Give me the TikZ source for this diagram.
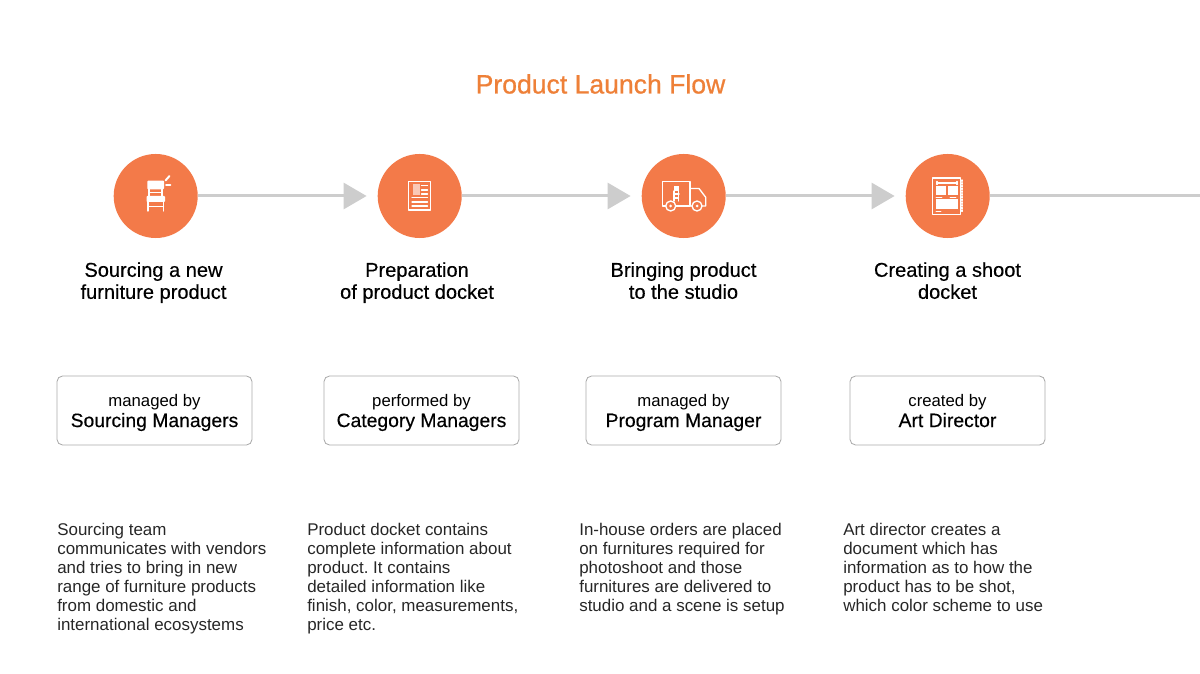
\documentclass[tikz,border=0pt]{standalone}
\usepackage{fontspec}
\setmainfont{Liberation Sans}
\newfontfamily\mediumfont[RawFeature={embolden=0.35}]{Liberation Sans}
\newfontfamily\titlefont[RawFeature={embolden=0.8}]{Liberation Sans}
\frenchspacing
\usetikzlibrary{arrows.meta}
\definecolor{flamingo}{HTML}{F37A49}
\definecolor{titleorange}{HTML}{EE8038}
\definecolor{flowgray}{HTML}{CDCDCD}
\definecolor{boxgray}{HTML}{ABABAB}
\definecolor{inktext}{HTML}{262626}
\tikzset{
	stepcircle/.style={circle, fill=flamingo, minimum size=2.1cm, inner sep=0pt},
	flowline/.style={draw=flowgray, line width=0.075cm, -{Triangle[length=0.575cm, width=0.65cm]}, shorten >=0.27cm},
	stephead/.style={anchor=north, align=center, text=black, inner sep=0pt, font=\mediumfont\fontsize{14.25}{15.65}\selectfont},
	rolebox/.style={draw=boxgray, line width=0.6pt, rounded corners=0.14cm, minimum width=4.875cm, minimum height=1.725cm, align=center, inner sep=0pt, text=black, text depth=0pt, font=\fontsize{12}{14.9}\selectfont},
	stepnote/.style={anchor=north west, align=left, inner sep=0pt, text=inktext, font=\fontsize{12.05}{13.52}\selectfont},
	iconline/.style={draw=white, line width=0.95pt, line cap=round, line join=round},
	iconfill/.style={fill=white, draw=none}
}
\newcommand{\rolesmall}{\fontsize{11.9}{14.9}\selectfont}
\newcommand{\rolelarge}{\mediumfont\fontsize{13.75}{14.9}\selectfont}
\begin{document}
\begin{tikzpicture}[x=0.025cm, y=-0.025cm, line join=round, >=stealth]
	\useasboundingbox (0,0) rectangle (1200,674);

	% Title
	\node[text=titleorange, inner sep=0pt, font=\titlefont\fontsize{18.9}{22}\selectfont] (title) at (600.5,84) {Product Launch Flow};

	% Step circles
	\node[stepcircle] (A) at (155.7,196) {};
	\node[stepcircle] (B) at (419.7,196) {};
	\node[stepcircle] (C) at (683.7,196) {};
	\node[stepcircle] (D) at (947.7,196) {};
	\coordinate (E) at (1200,196);

	% Connectors
	\draw[flowline] (A) -- (B);
	\draw[flowline] (B) -- (C);
	\draw[flowline] (C) -- (D);
	\draw[draw=flowgray, line width=0.075cm] (D) -- (E);

	% Chair icon
	\fill[iconfill, rounded corners=0.02cm] (147.3,180.7) rectangle (164,189.3);
	\fill[iconfill, rounded corners=0.02cm] (146.5,196) rectangle (165,202);
	\draw[iconline] (149,189) -- (149,196) (162,189) -- (162,196) (149,192.5) -- (162,192.5);
	\draw[iconline] (148,202) -- (148,211) (163.5,202) -- (163.5,211) (148,206.7) -- (163.5,206.7);
	\draw[iconline, line width=1.4pt] (165.5,180.5) -- (169.5,176) (166,185) -- (170.5,185);

	% Docket icon
	\draw[iconline] (408.7,181.3) rectangle (430.7,210);
	\fill[white, opacity=0.6] (412.5,184.5) rectangle (419.5,195.5);
	\draw[iconline] (421.5,185.5) -- (427.5,185.5) (421.5,190) -- (427.5,190) (421.5,194) -- (427.5,194);
	\draw[iconline] (412,197.5) -- (427.5,197.5) (412,202) -- (427.5,202) (412,206) -- (427.5,206);

	% Truck icon
	\draw[iconline] (665.8,206) -- (662.3,206) -- (662.3,181.7) -- (690,181.7) -- (690,206) -- (675.7,206);
	\draw[iconline] (690,188.5) -- (699,188.5) -- (705.7,197.3) -- (705.7,206) -- (702,206) (692,206) -- (690,206);
	\draw[iconline] (670.7,206) circle (5);
	\draw[iconline] (697,206) circle (5);
	\fill[iconfill] (670.7,206) circle (1.5);
	\fill[iconfill] (697,206) circle (1.5);
	\fill[iconfill] (673.5,186) rectangle (679,191.5);
	\draw[iconline] (673.5,194) -- (679,194) (674,191) -- (674,201) (678.5,191) -- (678.5,201) (674,198) -- (678.5,198);

	% Notebook icon
	\draw[iconline] (932.3,178) rectangle (960.5,214.3);
	\draw[iconline, densely dotted] (962,180) -- (962,212);
	\draw[iconline] (937,183) -- (957,183) (937,181.5) -- (937,184.5) (957,181.5) -- (957,184.5);
	\fill[iconfill] (936,186) rectangle (945.5,195);
	\fill[iconfill] (948,186) rectangle (958,195);
	\fill[iconfill] (936,199) rectangle (958,209);
	\draw[iconline, line width=0.4pt] (936,197) -- (942,197) (950,197) -- (956,197) (936,211.5) -- (941,211.5);

	% Step headings
	\node[stephead] (headA) at (153.5,262) {Sourcing a new\\furniture product};
	\node[stephead] (headB) at (417,262) {Preparation\\of product docket};
	\node[stephead] (headC) at (683.5,262) {Bringing product\\to the studio};
	\node[stephead] (headD) at (947.5,262) {Creating a shoot\\docket};

	% Role boxes
	\node[rolebox] (roleA) at (154.5,410.5) {{\rolesmall managed by}\\{\rolelarge Sourcing Managers}};
	\node[rolebox] (roleB) at (421.5,410.5) {{\rolesmall performed by}\\{\rolelarge Category Managers}};
	\node[rolebox] (roleC) at (683.5,410.5) {{\rolesmall managed by}\\{\rolelarge Program Manager}};
	\node[rolebox] (roleD) at (947.5,410.5) {{\rolesmall created by}\\{\rolelarge Art Director}};

	% Notes
	\node[stepnote] (noteA) at (57,523) {Sourcing team\\communicates with vendors\\and tries to bring in new\\range of furniture products\\from domestic and\\international ecosystems};
	\node[stepnote] (noteB) at (307,523) {Product docket contains\\complete information about\\product. It contains\\detailed information like\\finish, color, measurements,\\price etc.};
	\node[stepnote] (noteC) at (579,523) {In-house orders are placed\\on furnitures required for\\photoshoot and those\\furnitures are delivered to\\studio and a scene is setup};
	\node[stepnote] (noteD) at (843,523) {Art director creates a\\document which has\\information as to how the\\product has to be shot,\\which color scheme to use};
\end{tikzpicture}
\end{document}
